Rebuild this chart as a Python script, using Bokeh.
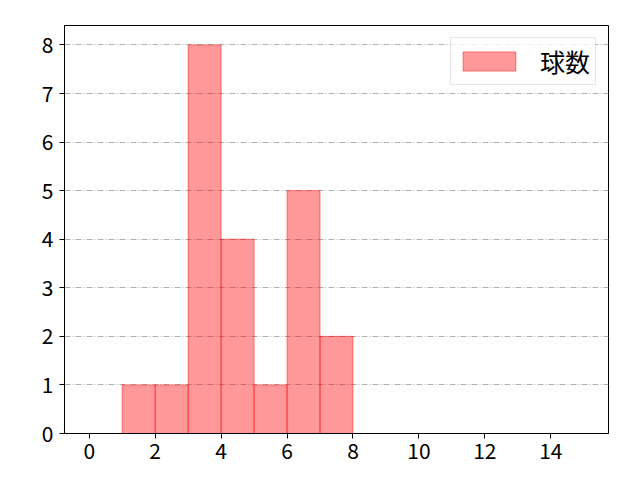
from bokeh.plotting import figure
from bokeh.models import Range1d, FixedTicker, Legend, LegendItem, ColumnDataSource
from bokeh.embed import file_html
from bokeh.resources import INLINE

# data
bin_left = [1, 2, 3, 4, 5, 6, 7]
bin_right = [2, 3, 4, 5, 6, 7, 8]
counts = [1, 1, 8, 4, 1, 5, 2]
x_ticks = [0, 2, 4, 6, 8, 10, 12, 14]
y_ticks = [0, 1, 2, 3, 4, 5, 6, 7, 8]
series_label = "球数"

FONT = "Noto Sans CJK JP"

p = figure(width=632, height=472, output_backend="svg", toolbar_location=None,
           x_range=Range1d(-0.75, 15.75), y_range=Range1d(0, 8.4))
p.frame_width = 544
p.frame_height = 408
p.min_border_left = 64
p.min_border_right = 24
p.min_border_top = 25
p.min_border_bottom = 39

src = ColumnDataSource(dict(left=bin_left, right=bin_right, top=counts,
                            bottom=[0] * len(counts)))
r = p.quad(left="left", right="right", top="top", bottom="bottom", source=src,
           fill_color="red", fill_alpha=0.4, line_color="red", line_alpha=0.45,
           line_width=1)

p.xaxis.ticker = FixedTicker(ticks=x_ticks)
p.yaxis.ticker = FixedTicker(ticks=y_ticks)
for ax in (p.xaxis[0], p.yaxis[0]):
    ax.major_label_text_font = FONT
    ax.major_label_text_font_size = "21px"
    ax.major_label_text_color = "black"
    ax.major_tick_out = 5
    ax.major_tick_in = 0
    ax.minor_tick_out = 0
    ax.minor_tick_in = 0
    ax.axis_line_color = "black"
    ax.major_tick_line_color = "black"
    ax.axis_line_width = 1
p.xaxis.major_label_standoff = 4
p.yaxis.major_label_standoff = 6

p.xgrid.visible = False
p.ygrid.grid_line_color = "#b0b0b0"
p.ygrid.grid_line_dash = "6 2 1 2"
p.ygrid.grid_line_width = 1

p.outline_line_color = "black"
p.outline_line_width = 1
p.outline_line_alpha = 1
p.background_fill_color = "white"
p.border_fill_color = "white"

legend = Legend(items=[LegendItem(label=series_label, renderers=[r])],
                location="top_right")
legend.margin = 12
legend.padding = 5
legend.spacing = 0
legend.glyph_width = 66
legend.glyph_height = 24
legend.label_standoff = 18
legend.label_text_font = FONT
legend.label_text_font_size = "25px"
legend.label_text_line_height = 1.0
legend.label_text_color = "black"
legend.label_height = 31
legend.border_line_color = "#d0d0d0"
legend.border_line_width = 1
legend.background_fill_alpha = 0.8
p.add_layout(legend)

open("out.html", "w").write(file_html(p, INLINE))
